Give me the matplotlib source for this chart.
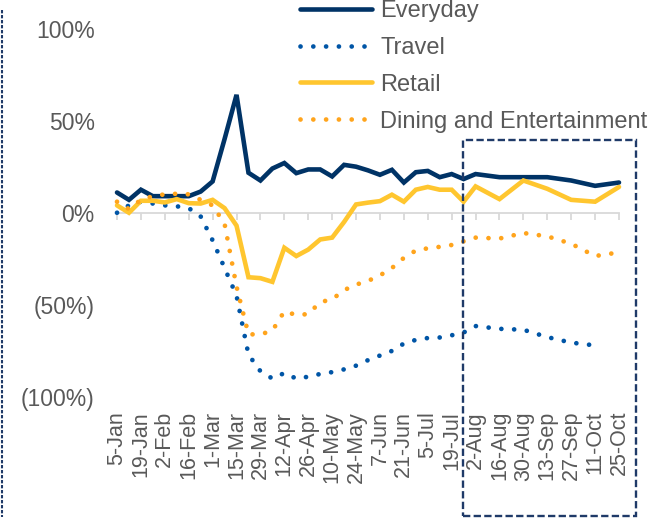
import matplotlib

matplotlib.use("Agg")
import matplotlib.pyplot as plt
import pandas as pd
from matplotlib.lines import Line2D
from matplotlib.patches import Rectangle

plt.rcParams.update({
    "font.family": ["Liberation Sans", "DejaVu Sans"],
    "font.size": 15.5,
})

# weekly points to 2-Aug, then fortnightly to 25-Oct
DATES = list(pd.date_range("2020-01-05", "2020-08-02", freq="7D")) + \
    list(pd.date_range("2020-08-16", "2020-10-25", freq="14D"))

EVERYDAY = [11, 7, 12.5, 9, 9, 9, 9, 11.5, 17, 40, 64, 21.7, 17.5, 24, 27, 21.5,
            23.5, 23.5, 19.7, 26, 25, 23, 20.6, 23.3, 16.4, 22, 22.7, 19.3, 21,
            18.3, 21, 19.3, 19.3, 19.3, 17.5, 14.6, 16.4]
TRAVEL = [0, 4, 6, 5, 4, 3.5, 2.5, -2, -15, -30, -45, -77, -86, -90, -87, -90,
          -89, -87.5, -86.5, -85, -83, -80, -77.5, -75, -71, -69, -68, -67.7,
          -66.5, -65, -61.5, -63, -63.5, -67.5, -70.5, -72, None]
RETAIL = [4, 0, 6.5, 6.5, 5.6, 7.4, 5.2, 5, 7, 2.5, -7, -35, -35.5, -37.5, -19,
          -23.5, -20, -14.5, -13.5, -5, 4.5, 5.5, 6.3, 9.8, 6, 12.5, 14, 12.5,
          12.5, 6, 14.3, 7.4, 17.5, 13, 7, 6, 14]
DINING = [6, 2, 7, 9, 10, 10.3, 10, 7, 4, -6, -40, -66, -66, -64, -53.5, -55.5,
          -55, -48.5, -47, -42, -39, -37, -34, -30, -24.5, -20.5, -19.3, -18.5,
          -17.5, -15.5, -13.5, -14, -11, -12.8, -16.8, -23.5, -21.5]

TICK_DATES = pd.date_range("2020-01-05", "2020-10-25", freq="14D")
TICK_LABELS = ["5-Jan", "19-Jan", "2-Feb", "16-Feb", "1-Mar", "15-Mar", "29-Mar",
               "12-Apr", "26-Apr", "10-May", "24-May", "7-Jun", "21-Jun", "5-Jul",
               "19-Jul", "2-Aug", "16-Aug", "30-Aug", "13-Sep", "27-Sep",
               "11-Oct", "25-Oct"]
Y_TICKS = [-100, -50, 0, 50, 100]
Y_LABELS = ["(100%)", "(50%)", "0%", "50%", "100%"]

TEXT = "#595959"
BOX = "#1F3A68"
DOTS = (0, (0.01, 2.7))
SERIES = [
    ("Everyday", EVERYDAY, "#003366", "-", 3.3),
    ("Travel", TRAVEL, "#0055A6", DOTS, 3.4),
    ("Retail", RETAIL, "#FFC62F", "-", 3.3),
    ("Dining and Entertainment", DINING, "#FFA41C", DOTS, 3.4),
]

W, H = 671, 525
fig = plt.figure(figsize=(W / 100, H / 100), dpi=100)
ax = fig.add_axes([117 / W, 1 - 397 / H, (619 - 117) / W, (397 - 28.5) / H])

handles = []
for name, vals, color, ls, lw in SERIES:
    y = [float("nan") if v is None else v for v in vals]
    ln, = ax.plot(DATES, y, color=color, lw=lw, ls=ls, label=name,
                  solid_capstyle="round", solid_joinstyle="miter",
                  dash_capstyle="round", clip_on=False)
    handles.append(ln)

ax.set_xlim(DATES[0], DATES[-1])
ax.set_ylim(-100, 100)
for s in ("top", "right", "left"):
    ax.spines[s].set_visible(False)
ax.spines["bottom"].set_position(("data", 0))
ax.spines["bottom"].set_color("#D9D9D9")
ax.spines["bottom"].set_linewidth(1.3)
ax.spines["bottom"].set_zorder(0.5)
ax.set_xticks(TICK_DATES)
ax.tick_params(axis="x", direction="out", length=5, width=1.3, color="#D9D9D9",
               labelbottom=False)
ax.set_yticks(Y_TICKS)
ax.set_yticklabels(Y_LABELS)
ax.tick_params(axis="y", length=0, pad=16, labelcolor=TEXT, labelsize=16.5)

sec = ax.secondary_xaxis("bottom")
sec.set_xticks(TICK_DATES)
sec.set_xticklabels(TICK_LABELS, rotation=90, va="top", ha="center")
sec.tick_params(length=0, pad=10, labelcolor=TEXT)
sec.spines["bottom"].set_visible(False)

fig.legend(handles, [h.get_label() for h in handles], loc="upper left",
           bbox_to_anchor=(300 / W, 1.0), frameon=False, fontsize=17,
           handlelength=3.05, handletextpad=0.34, labelspacing=0.63,
           borderpad=0, borderaxespad=0, labelcolor=TEXT)

# dashed call-out boxes
fig.add_artist(Rectangle((463 / W, 1 - 516 / H), (636 - 463) / W, (516 - 140) / H,
                         transform=fig.transFigure, fill=False, ec=BOX, lw=1.7,
                         ls=(0, (3.1, 1.4))))
fig.add_artist(Line2D([1.5 / W, 1.5 / W], [1 - 10 / H, 1 - 517 / H],
                      transform=fig.transFigure, color=BOX, lw=1.5,
                      ls=(0, (1.6, 0.8))))

fig.savefig("out.png", dpi=100)
